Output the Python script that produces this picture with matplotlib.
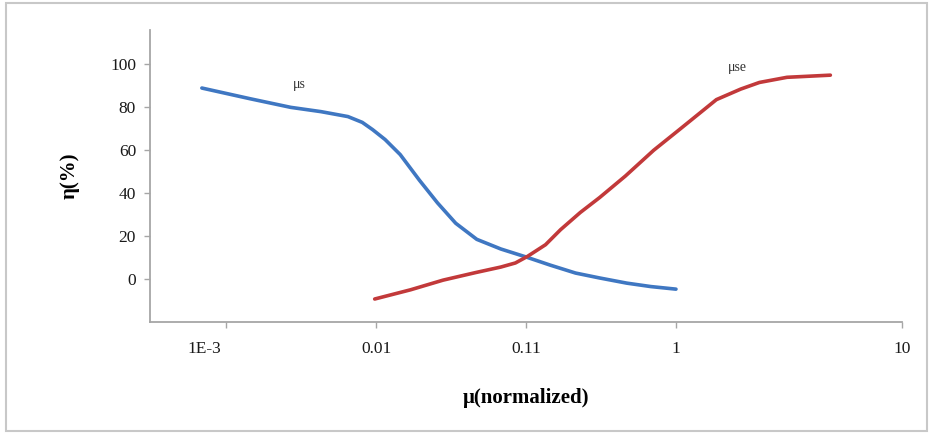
import numpy as np
import matplotlib
matplotlib.use("Agg")
import matplotlib.pyplot as plt
import matplotlib.transforms as mtransforms
from matplotlib.patches import Rectangle

# values (x in normalized mu, y in %)
mu_s_x = [6.9e-4, 1.45e-3, 2.7e-3, 4.3e-3, 6.5e-3, 8.1e-3, 9.5e-3, 0.0115, 0.0145, 0.0195,
          0.0257, 0.034, 0.047, 0.068, 0.10, 0.145, 0.214, 0.31, 0.47, 0.68, 1.0]
mu_s_y = [89, 84, 80, 78, 75.7, 73, 69.6, 65, 58, 46,
          35.5, 26, 18.5, 14, 10.3, 6.5, 2.8, 0.5, -1.9, -3.5, -4.7]

mu_se_x = [0.0098, 0.017, 0.028, 0.046, 0.068, 0.085, 0.102, 0.135, 0.17, 0.23,
           0.31, 0.46, 0.71, 1.07, 1.86, 2.7, 3.6, 5.5, 10.7]
mu_se_y = [-9.3, -5, -0.5, 3, 5.6, 7.5, 10.5, 16, 23, 31,
           38, 48, 60, 70, 83.6, 88.5, 91.6, 94, 95]

x_ticks = [1e-3, 1e-2, 1e-1, 1.0, 10 ** 1.507]
x_tick_labels = ["1E-3", "0.01", "0.11", "1", "10"]
y_ticks = [0, 20, 40, 60, 80, 100]

serif = ["Liberation Serif", "DejaVu Serif"]
grey = "#a6a6a6"

fig = plt.figure(figsize=(9.35, 4.36), dpi=100)
ax = fig.add_axes([0.1604, 0.2615, 0.8043, 0.6695])

ax.plot(mu_s_x, mu_s_y, color="#3f77c2", lw=2.6, solid_capstyle="round", solid_joinstyle="round")
ax.plot(mu_se_x, mu_se_y, color="#c2393a", lw=2.6, solid_capstyle="round", solid_joinstyle="round")

ax.set_xscale("log")
ax.set_xlim(10 ** -3.507, 10 ** 1.507)
ax.set_ylim(-20, 116)
ax.set_xticks(x_ticks)
ax.set_xticklabels(x_tick_labels)
ax.minorticks_off()
ax.set_yticks(y_ticks)

for s in ["top", "right"]:
    ax.spines[s].set_visible(False)
for s in ["left", "bottom"]:
    ax.spines[s].set_color(grey)
    ax.spines[s].set_linewidth(1.3)
ax.tick_params(axis="both", colors=grey, length=4, width=1.0, labelcolor="#1a1a1a", labelsize=12.5)
ax.tick_params(axis="x", pad=10)
ax.tick_params(axis="y", pad=6)
for lab in ax.get_xticklabels() + ax.get_yticklabels():
    lab.set_fontfamily(serif)

# Excel drew the first label a little left of its tick
first = ax.get_xticklabels()[0]
first.set_transform(first.get_transform() + mtransforms.ScaledTranslation(-0.22, 0, fig.dpi_scale_trans))

ax.text(10 ** -2.51, 90.5, "μs", fontsize=10, family=serif, ha="center", va="center", color="#333333")
ax.text(10 ** 0.41, 98.5, "μse", fontsize=10, family=serif, ha="center", va="center", color="#333333")

ax.set_ylabel("η(%)", fontsize=15, fontweight="bold", family=serif, labelpad=22)
ax.set_xlabel("μ(normalized)", fontsize=15, fontweight="bold", family=serif, labelpad=22)

fig.patches.append(Rectangle((0.006, 0.012), 0.985, 0.98, transform=fig.transFigure,
                             fill=False, edgecolor="#c8c8c8", lw=1.5))

fig.savefig("out.png", dpi=100)
